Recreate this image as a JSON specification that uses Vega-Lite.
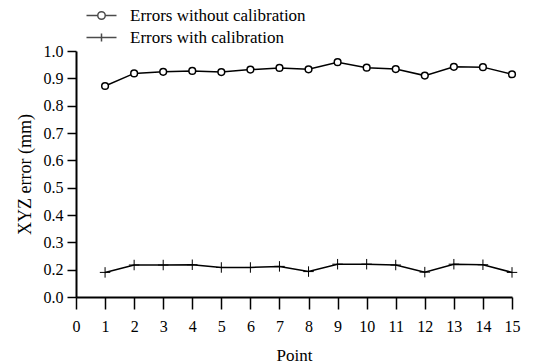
{
  "$schema": "https://vega.github.io/schema/vega-lite/v6.json",
  "autosize": {"type": "none"},
  "padding": {"left": 76, "top": 51, "right": 48, "bottom": 67},
  "width": 436,
  "height": 246,
  "background": "white",
  "config": {
    "view": {"stroke": null},
    "font": "Liberation Serif",
    "axis": {
      "labelFont": "Liberation Serif",
      "titleFont": "Liberation Serif",
      "labelFontSize": 16,
      "titleFontSize": 17,
      "titleFontWeight": "normal",
      "labelColor": "black",
      "titleColor": "black",
      "domainColor": "black",
      "tickColor": "black",
      "domainWidth": 2,
      "tickWidth": 1.5,
      "grid": false
    },
    "legend": {
      "labelFont": "Liberation Serif",
      "labelFontSize": 17,
      "labelColor": "black",
      "labelLimit": 0
    }
  },
  "data": {
    "values": [
      {"point": 1, "series": "Errors without calibration", "error": 0.872},
      {"point": 2, "series": "Errors without calibration", "error": 0.918},
      {"point": 3, "series": "Errors without calibration", "error": 0.924},
      {"point": 4, "series": "Errors without calibration", "error": 0.927},
      {"point": 5, "series": "Errors without calibration", "error": 0.923},
      {"point": 6, "series": "Errors without calibration", "error": 0.932},
      {"point": 7, "series": "Errors without calibration", "error": 0.938},
      {"point": 8, "series": "Errors without calibration", "error": 0.933},
      {"point": 9, "series": "Errors without calibration", "error": 0.959},
      {"point": 10, "series": "Errors without calibration", "error": 0.939},
      {"point": 11, "series": "Errors without calibration", "error": 0.934},
      {"point": 12, "series": "Errors without calibration", "error": 0.910},
      {"point": 13, "series": "Errors without calibration", "error": 0.942},
      {"point": 14, "series": "Errors without calibration", "error": 0.941},
      {"point": 15, "series": "Errors without calibration", "error": 0.915},
      {"point": 1, "series": "Errors with calibration", "error": 0.190},
      {"point": 2, "series": "Errors with calibration", "error": 0.217},
      {"point": 3, "series": "Errors with calibration", "error": 0.217},
      {"point": 4, "series": "Errors with calibration", "error": 0.218},
      {"point": 5, "series": "Errors with calibration", "error": 0.208},
      {"point": 6, "series": "Errors with calibration", "error": 0.208},
      {"point": 7, "series": "Errors with calibration", "error": 0.212},
      {"point": 8, "series": "Errors with calibration", "error": 0.193},
      {"point": 9, "series": "Errors with calibration", "error": 0.220},
      {"point": 10, "series": "Errors with calibration", "error": 0.220},
      {"point": 11, "series": "Errors with calibration", "error": 0.217},
      {"point": 12, "series": "Errors with calibration", "error": 0.191},
      {"point": 13, "series": "Errors with calibration", "error": 0.220},
      {"point": 14, "series": "Errors with calibration", "error": 0.218},
      {"point": 15, "series": "Errors with calibration", "error": 0.190}
    ]
  },
  "encoding": {
    "x": {
      "field": "point",
      "type": "quantitative",
      "scale": {"domain": [0, 15], "nice": false, "zero": false},
      "axis": {
        "title": "Point",
        "values": [0,1,2,3,4,5,6,7,8,9,10,11,12,13,14,15],
        "tickSize": 12,
        "labelPadding": 9,
        "titlePadding": 13,
        "labelFlush": false,
        "labelOverlap": false
      }
    },
    "y": {
      "field": "error",
      "type": "quantitative",
      "scale": {"domain": [0.1, 1.0], "nice": false, "zero": false},
      "axis": {
        "title": "XYZ error (mm)",
        "titleFontSize": 18,
        "values": [0.1,0.2,0.3,0.4,0.5,0.6,0.7,0.8,0.9,1.0],
        "labelExpr": "datum.value < 0.15 ? '0.0' : format(datum.value, '.1f')",
        "tickSize": 9,
        "labelPadding": 4,
        "titlePadding": 9,
        "labelFlush": false,
        "labelOverlap": false
      }
    }
  },
  "layer": [
    {
      "mark": {"type": "line", "color": "black", "strokeWidth": 1.5},
      "encoding": {"detail": {"field": "series"}}
    },
    {
      "mark": {"type": "point", "filled": false, "opacity": 1, "color": "black", "fill": "white"},
      "encoding": {
        "shape": {
          "condition": {"test": "datum.series === 'Errors with calibration'", "value": "M-1,0L1,0M0,-1L0,1"},
          "value": "circle"
        },
        "size": {
          "condition": {"test": "datum.series === 'Errors with calibration'", "value": 110},
          "value": 45
        },
        "strokeWidth": {
          "condition": {"test": "datum.series === 'Errors with calibration'", "value": 1},
          "value": 1.5
        }
      }
    },
    {
      "transform": [{"filter": "datum.point < 0"}],
      "mark": {"type": "point", "filled": false, "color": "black"},
      "encoding": {
        "shape": {
          "field": "series",
          "type": "nominal",
          "scale": {
            "domain": ["Errors without calibration", "Errors with calibration"],
            "range": [
              "M-3,0L-0.75,0M0.75,0A0.75,0.75 0 1,1 -0.75,0A0.75,0.75 0 1,1 0.75,0M0.75,0L3,0",
              "M-3,0L3,0M0,-0.8L0,0.8"
            ]
          },
          "legend": {
            "title": null,
            "orient": "none",
            "legendX": 17,
            "legendY": -44,
            "rowPadding": 4,
            "symbolSize": 100,
            "labelOffset": 20,
            "encode": {
              "symbols": {
                "update": {
                  "stroke": {"value": "black"},
                  "strokeWidth": {"value": 1.5},
                  "opacity": {"value": 1},
                  "fill": {"value": "white"}
                }
              }
            }
          }
        }
      }
    }
  ]
}
